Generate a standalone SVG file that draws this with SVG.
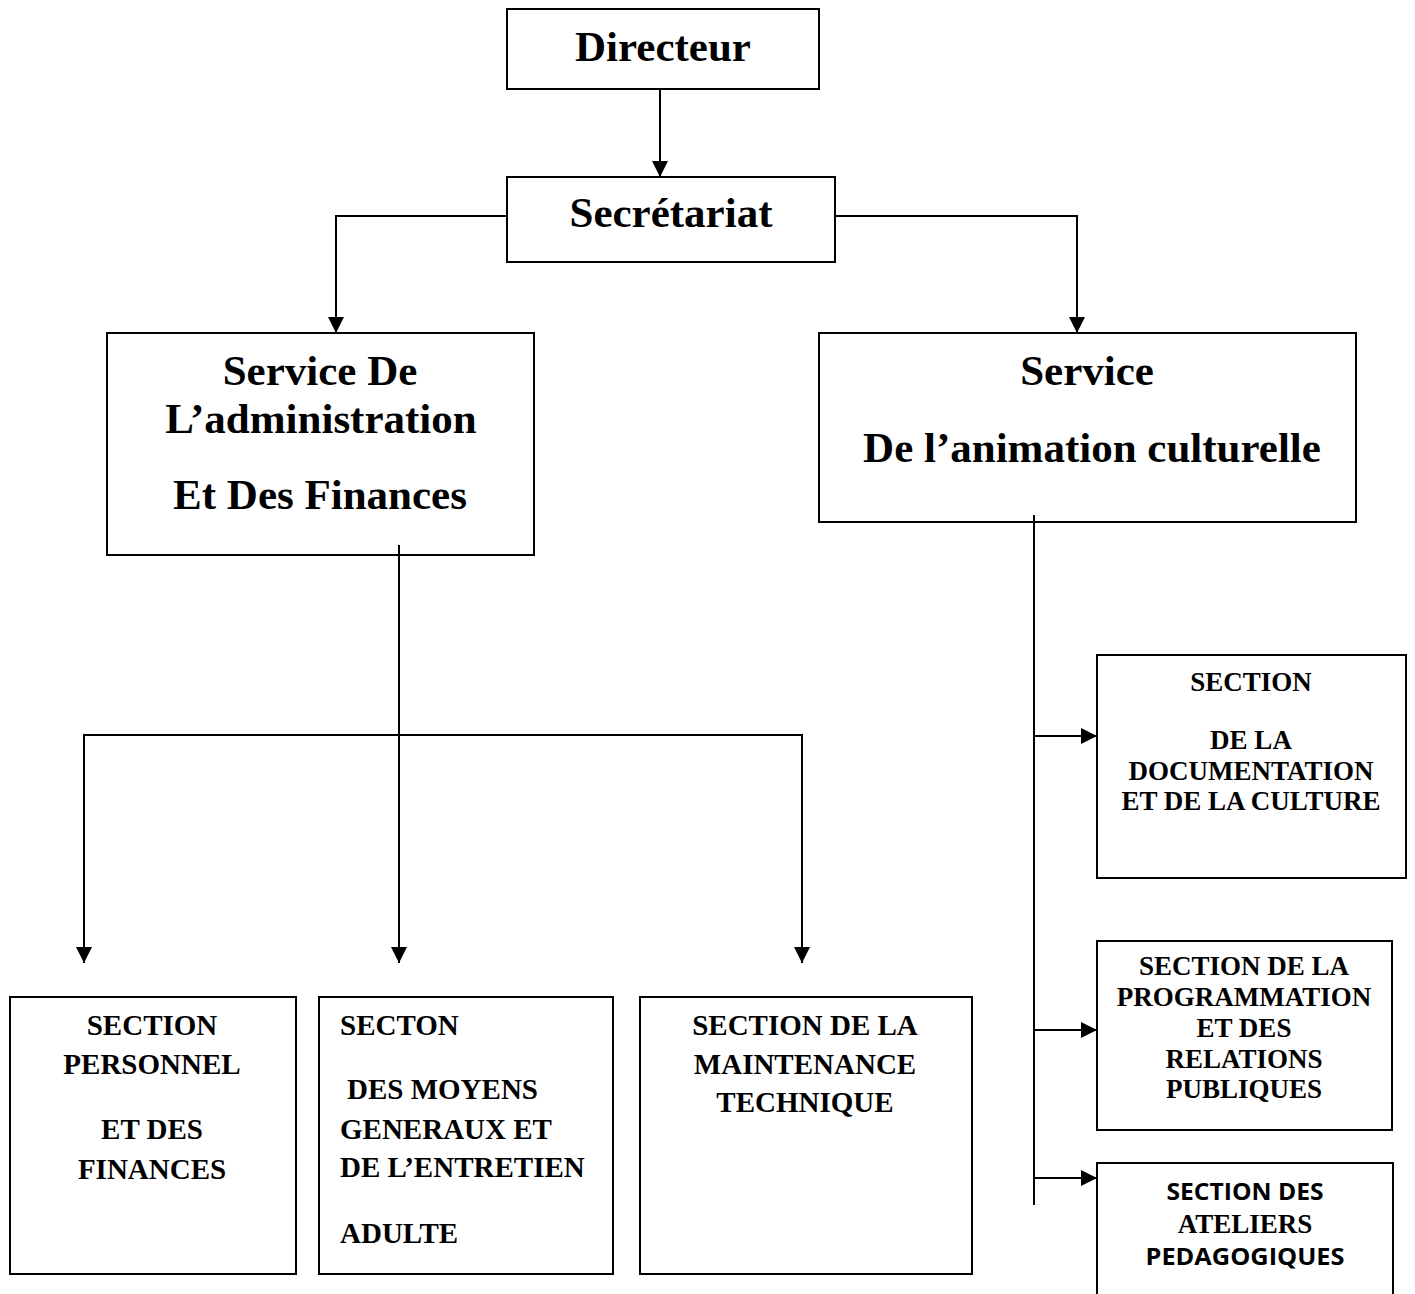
<svg xmlns="http://www.w3.org/2000/svg" width="1415" height="1294" viewBox="0 0 1415 1294">
  <style>
    .box { fill: #fff; stroke: #000; stroke-width: 2; }
    .big { font-family: "Liberation Serif", "Times New Roman", serif; font-weight: bold; font-size: 43px; fill: #000; text-anchor: middle; }
    .sec { font-family: "Liberation Serif", "Times New Roman", serif; font-weight: bold; font-size: 29px; fill: #000; }
    .sec2 { font-family: "Liberation Serif", "Times New Roman", serif; font-weight: bold; font-size: 27px; fill: #000; text-anchor: middle; }
    .sans { font-family: "Open Sans", "Noto Sans", sans-serif; font-weight: bold; font-size: 24px; fill: #000; text-anchor: middle; }
    .mid { text-anchor: middle; }
    .link { fill: none; stroke: #000; stroke-width: 2; }
  </style>
  <defs>
    <marker id="arrow" markerUnits="userSpaceOnUse" markerWidth="16" markerHeight="16" viewBox="0 0 16 16" refX="16" refY="8" orient="auto">
      <path d="M0,0 L16,8 L0,16 Z" fill="#000"/>
    </marker>
  </defs>

  <rect width="1415" height="1294" fill="#fff"/>

  <!-- top level -->
  <g id="directeur">
    <rect class="box" x="507" y="9" width="312" height="80"/>
    <text class="big" x="663" y="61">Directeur</text>
  </g>
  <g id="secretariat">
    <rect class="box" x="507" y="177" width="328" height="85"/>
    <text class="big" x="671" y="227">Secrétariat</text>
  </g>

  <!-- services -->
  <g id="service-administration">
    <rect class="box" x="107" y="333" width="427" height="222"/>
    <text class="big" x="320" y="385">Service De</text>
    <text class="big" x="321" y="433">L’administration</text>
    <text class="big" x="320" y="509">Et Des Finances</text>
  </g>
  <g id="service-animation">
    <rect class="box" x="819" y="333" width="537" height="189"/>
    <text class="big" x="1087" y="385">Service</text>
    <text class="big" x="1092" y="462">De l’animation culturelle</text>
  </g>

  <!-- sections under administration -->
  <g id="section-personnel">
    <rect class="box" x="10" y="997" width="286" height="277"/>
    <text class="sec mid" x="152" y="1035">SECTION</text>
    <text class="sec mid" x="152" y="1074">PERSONNEL</text>
    <text class="sec mid" x="152" y="1139">ET DES</text>
    <text class="sec mid" x="152" y="1179">FINANCES</text>
  </g>
  <g id="section-moyens">
    <rect class="box" x="319" y="997" width="294" height="277"/>
    <text class="sec" x="340" y="1035">SECTON</text>
    <text class="sec" x="347" y="1099">DES MOYENS</text>
    <text class="sec" x="340" y="1139">GENERAUX ET</text>
    <text class="sec" x="340" y="1177">DE L’ENTRETIEN</text>
    <text class="sec" x="340" y="1243">ADULTE</text>
  </g>
  <g id="section-maintenance">
    <rect class="box" x="640" y="997" width="332" height="277"/>
    <text class="sec mid" x="805" y="1035">SECTION DE LA</text>
    <text class="sec mid" x="805" y="1074">MAINTENANCE</text>
    <text class="sec mid" x="805" y="1112">TECHNIQUE</text>
  </g>

  <!-- sections under animation -->
  <g id="section-documentation">
    <rect class="box" x="1097" y="655" width="309" height="223"/>
    <text class="sec2" x="1251" y="691">SECTION</text>
    <text class="sec2" x="1251" y="749">DE LA</text>
    <text class="sec2" x="1251" y="780">DOCUMENTATION</text>
    <text class="sec2" x="1251" y="810">ET DE LA CULTURE</text>
  </g>
  <g id="section-programmation">
    <rect class="box" x="1097" y="941" width="295" height="189"/>
    <text class="sec2" x="1244" y="975">SECTION DE LA</text>
    <text class="sec2" x="1244" y="1006">PROGRAMMATION</text>
    <text class="sec2" x="1244" y="1037">ET DES</text>
    <text class="sec2" x="1244" y="1068">RELATIONS</text>
    <text class="sec2" x="1244" y="1098">PUBLIQUES</text>
  </g>
  <g id="section-ateliers">
    <rect class="box" x="1097" y="1163" width="296" height="150"/>
    <text class="sans" x="1245" y="1200" textLength="157" lengthAdjust="spacingAndGlyphs">SECTION DES</text>
    <text class="sec2" x="1245" y="1233">ATELIERS</text>
    <text class="sans" x="1245" y="1265" textLength="199" lengthAdjust="spacingAndGlyphs">PEDAGOGIQUES</text>
  </g>

  <!-- connectors, drawn last: the two trunk lines start just inside their boxes -->
  <g id="connectors">
    <path class="link" d="M660,89 V177" marker-end="url(#arrow)"/>
    <path class="link" d="M507,216 H336 V333" marker-end="url(#arrow)"/>
    <path class="link" d="M835,216 H1077 V333" marker-end="url(#arrow)"/>
    <path class="link" d="M399,545 V963" marker-end="url(#arrow)"/>
    <path class="link" d="M84,963 V735 H802 V963" marker-end="url(#arrow)"/>
    <path class="link" d="M84,735 V963" marker-end="url(#arrow)"/>
    <path class="link" d="M1034,515 V1205"/>
    <path class="link" d="M1034,736 H1097" marker-end="url(#arrow)"/>
    <path class="link" d="M1034,1030 H1097" marker-end="url(#arrow)"/>
    <path class="link" d="M1034,1178 H1097" marker-end="url(#arrow)"/>
  </g>
</svg>
